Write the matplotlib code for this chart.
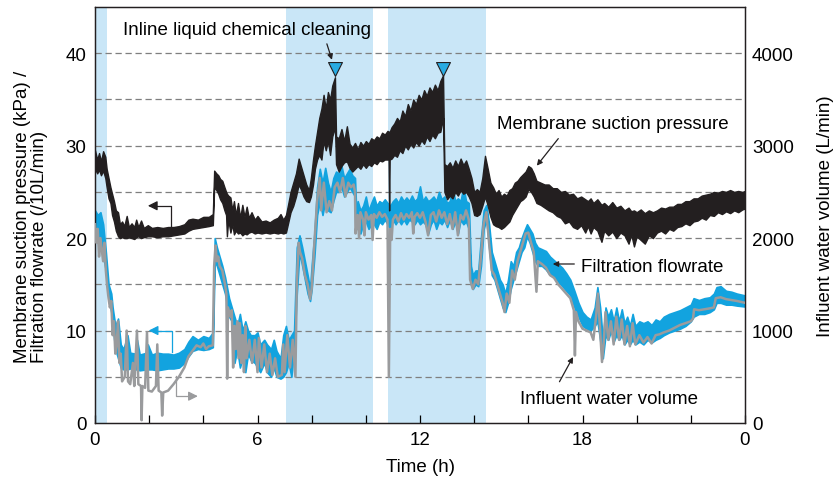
import matplotlib
matplotlib.use("Agg")
import matplotlib.pyplot as plt
import numpy as np

plt.rcParams['font.family'] = ['Liberation Sans', 'DejaVu Sans']

# ---------------- data ----------------
# Membrane suction pressure (kPa): lower / upper envelope of the noisy trace
p_t = [0.00, 0.08, 0.15, 0.22, 0.30, 0.38, 0.43, 0.50, 0.57, 0.63,
       0.70, 0.77, 0.85, 0.92, 1.00, 1.08, 1.17, 1.25, 1.35, 1.45,
       1.52, 1.60, 1.70, 1.80, 1.95, 2.10, 2.30, 2.50, 2.70, 2.90,
       3.10, 3.30, 3.45, 3.60, 3.80, 4.00, 4.20, 4.35, 4.40, 4.48,
       4.55, 4.62, 4.70, 4.78, 4.84, 4.87, 4.92, 5.00, 5.07, 5.13,
       5.20, 5.28, 5.36, 5.44, 5.52, 5.60, 5.68, 5.78, 5.90, 6.00,
       6.15, 6.30, 6.45, 6.60, 6.75, 6.85, 6.95, 7.05, 7.12, 7.22,
       7.32, 7.42, 7.52, 7.60, 7.70, 7.80, 7.90, 7.97, 8.05, 8.12,
       8.20, 8.28, 8.36, 8.44, 8.52, 8.60, 8.68, 8.76, 8.86, 8.90,
       9.00, 9.10, 9.20, 9.30, 9.40, 9.50, 9.60, 9.70, 9.80, 9.90,
       10.00, 10.10, 10.20, 10.30, 10.40, 10.50, 10.60, 10.70, 10.80, 10.84,
       10.86, 10.88, 10.95, 11.05, 11.15, 11.25, 11.35, 11.45, 11.55, 11.65,
       11.75, 11.85, 11.95, 12.05, 12.15, 12.25, 12.35, 12.45, 12.55, 12.65,
       12.75, 12.85, 12.90, 13.00, 13.10, 13.20, 13.30, 13.40, 13.50, 13.60,
       13.70, 13.80, 13.90, 14.00, 14.10, 14.20, 14.30, 14.40, 14.50, 14.60,
       14.70, 14.80, 14.90, 15.00, 15.10, 15.20, 15.30, 15.40, 15.50, 15.60,
       15.70, 15.80, 15.90, 16.00, 16.10, 16.20, 16.30, 16.45, 16.60, 16.75,
       16.90, 17.05, 17.20, 17.35, 17.50, 17.65, 17.80, 17.95, 18.10, 18.20,
       18.30, 18.40, 18.55, 18.70, 18.80, 18.95, 19.10, 19.25, 19.40, 19.55,
       19.70, 19.80, 19.90, 20.00, 20.15, 20.30, 20.45, 20.60, 20.75, 20.90,
       21.05, 21.20, 21.35, 21.50, 21.65, 21.80, 21.95, 22.10, 22.25, 22.40,
       22.55, 22.70, 22.85, 23.00, 23.15, 23.30, 23.45, 23.60, 23.75, 23.90,
       24.00]
p_lo = [27.5, 27.0, 27.4, 26.8, 27.3, 26.5, 25.5, 24.3, 23.8, 22.5,
        21.8, 20.8, 20.2, 20.0, 20.1, 20.0, 20.0, 20.1, 20.0, 19.9,
        20.1, 20.2, 20.0, 20.1, 20.2, 20.2, 20.1, 20.2, 20.2, 20.3,
        20.4, 20.5, 20.8, 21.0, 21.1, 21.2, 21.3, 21.4, 25.5, 25.2,
        24.8, 24.2, 23.8, 23.0, 22.5, 20.2, 22.0, 20.6, 21.5, 20.4,
        20.8, 20.5, 20.6, 20.3, 20.5, 20.4, 20.6, 20.7, 20.5, 20.6,
        20.5, 20.6, 20.5, 20.6, 20.5, 20.6, 20.5, 20.6, 21.5, 22.8,
        23.5, 24.5, 25.8, 25.3, 24.5, 24.0, 23.9, 24.5, 25.8, 27.5,
        28.5, 29.0, 28.5, 30.5, 29.5, 30.5, 29.0, 31.0, 32.0, 28.0,
        27.2, 27.8, 28.2, 28.3, 27.6, 27.2, 27.5, 27.8, 27.5, 28.0,
        27.6, 28.0, 27.8, 28.2, 28.0, 28.4, 28.3, 28.5, 28.5, 28.5,
        23.0, 28.5, 28.6, 29.0, 28.8, 29.5, 29.2, 30.0, 29.6, 30.2,
        29.8, 30.4, 30.0, 30.6, 30.2, 31.0, 30.5, 31.2, 30.8, 31.4,
        31.5, 33.0, 25.0, 24.2, 24.6, 24.3, 25.0, 24.6, 25.2, 24.8,
        25.0, 24.5, 23.8, 22.5, 22.4, 22.6, 23.5, 24.5, 23.5, 22.3,
        21.5, 21.3, 21.2, 21.0, 21.2, 21.5, 21.8, 22.5, 23.0, 23.5,
        24.0, 24.2, 24.5, 25.3, 25.0, 24.5, 23.8, 23.6, 23.3, 23.0,
        22.8, 22.4, 22.2, 21.6, 21.8, 21.2, 21.0, 21.4, 20.6, 21.3,
        20.5, 21.2, 20.8, 19.6, 20.8, 20.3, 20.7, 20.0, 20.6, 20.3,
        19.4, 20.4, 19.1, 20.2, 19.8, 19.4, 20.3, 20.0, 20.6, 20.8,
        20.5, 21.0, 20.8, 21.2, 21.3, 21.6, 21.4, 21.8, 21.9, 22.2,
        22.0, 22.5, 22.4, 22.8, 22.6, 22.9, 22.7, 23.0, 22.8, 23.1,
        23.2]
p_hi = [29.5, 28.5, 29.2, 28.3, 29.4, 28.8, 27.5, 26.5, 25.5, 24.8,
        24.0, 23.0, 22.8, 21.5, 21.8, 21.3, 22.4, 21.2, 21.6, 21.2,
        22.0, 21.2, 21.9, 21.1, 21.4, 21.1, 21.2, 21.1, 21.2, 21.2,
        21.3, 21.5, 22.0, 22.1, 22.0, 22.3, 22.3, 22.6, 27.3, 27.0,
        26.8, 26.4, 26.2, 25.5, 25.0, 24.8, 24.6, 24.4, 23.0, 24.0,
        22.5, 23.8, 22.2, 23.6, 22.3, 23.4, 22.2, 22.8, 22.0, 22.4,
        21.8, 21.9, 21.7, 22.0, 22.2, 22.6, 22.0, 22.5, 23.5, 25.0,
        26.0, 27.0, 28.6, 27.8, 26.8, 25.8, 25.2, 26.5, 28.5, 30.0,
        31.5, 33.0, 34.0, 35.5, 34.0, 35.8, 35.0, 36.5, 37.4, 31.0,
        30.8, 31.8, 30.5, 32.1, 30.2, 29.8, 30.3, 29.6, 30.4, 30.0,
        30.5, 30.2, 30.8, 30.6, 31.0, 30.8, 31.4, 31.2, 31.6, 31.5,
        31.5, 31.5, 32.0, 32.4, 33.0, 32.6, 33.8, 33.2, 34.5, 33.8,
        35.0, 34.5, 35.5, 35.0, 36.0, 35.4, 36.3, 35.8, 36.6, 36.0,
        37.0, 37.6, 28.0, 27.8, 28.2, 27.6, 28.4, 27.8, 28.6, 27.9,
        28.4, 27.5, 26.5, 25.0, 25.3, 25.0, 26.5, 28.9, 27.5, 26.0,
        25.5, 24.8, 25.2, 24.5, 24.8, 24.6, 25.2, 25.4, 26.0, 26.2,
        26.6, 26.9, 27.2, 27.8, 27.6, 27.0, 26.2, 26.0, 25.8, 25.8,
        25.4, 25.4, 25.0, 25.1, 24.7, 24.8, 24.3, 24.5, 24.2, 24.0,
        24.3, 23.8, 24.2, 23.6, 23.8, 23.4, 23.9, 23.3, 23.5, 23.0,
        23.3, 22.9, 23.0, 22.8, 23.1, 22.7, 23.0, 22.8, 23.0, 23.3,
        23.2, 23.4, 23.4, 23.7, 23.7, 24.0, 24.0, 24.3, 24.3, 24.6,
        24.7, 24.8, 25.0, 24.9, 25.1, 25.0, 25.2, 25.0, 25.1, 25.0,
        25.1]

# Filtration flowrate (/10 L/min): lower / upper envelope
f_t = [0.0, 0.1, 0.2, 0.3, 0.4, 0.5, 0.6, 0.65, 0.75, 0.85, 0.95, 1.05, 1.2, 1.3, 1.5, 1.55, 1.65, 1.9, 1.95,
       2.1, 2.3, 2.5, 2.7, 2.9, 3.1, 3.3, 3.45, 3.6, 3.8, 4.0, 4.2, 4.35, 4.42, 4.5, 4.6, 4.7, 4.8, 4.95, 5.05,
       5.15, 5.25, 5.35, 5.45, 5.55, 5.65, 5.75, 5.9, 6.0, 6.1, 6.25, 6.35, 6.5, 6.6, 6.7, 6.85, 6.95, 7.05,
       7.15, 7.25, 7.35, 7.45, 7.55, 7.65, 7.75, 7.85, 7.94, 8.0, 8.1, 8.2, 8.3, 8.4, 8.5, 8.6, 8.7, 8.8, 8.9,
       9.0, 9.1, 9.2, 9.3, 9.4, 9.5, 9.6, 9.65, 9.7, 9.8, 9.9, 10.0, 10.1, 10.2, 10.3, 10.4, 10.5, 10.6, 10.7,
       10.8, 10.9, 11.0, 11.1, 11.2, 11.3, 11.4, 11.5, 11.6, 11.7, 11.8, 11.9, 12.0, 12.1, 12.2, 12.3, 12.4,
       12.5, 12.6, 12.7, 12.8, 12.9, 13.0, 13.1, 13.2, 13.3, 13.4, 13.5, 13.6, 13.7, 13.8, 13.88, 13.95, 14.05,
       14.15, 14.25, 14.35, 14.45, 14.55, 14.65, 14.75, 14.85, 14.95, 15.05, 15.15, 15.25, 15.35, 15.45, 15.55,
       15.65, 15.75, 15.85, 15.95, 16.05, 16.15, 16.25, 16.35, 16.5, 16.65, 16.8, 16.95, 17.1, 17.25, 17.4,
       17.55, 17.7, 17.85, 18.0, 18.15, 18.3, 18.45, 18.55, 18.65, 18.75, 18.85, 18.95, 19.05, 19.15, 19.25,
       19.35, 19.45, 19.55, 19.65, 19.75, 19.85, 19.95, 20.1, 20.25, 20.4, 20.55, 20.7, 20.85, 21.0, 21.2,
       21.4, 21.6, 21.8, 22.0, 22.1, 22.3, 22.5, 22.7, 22.85, 22.95, 23.1, 23.3, 23.5, 23.7, 24.0]
f_lo = [20.5, 19.5, 19.0, 18.0, 16.5, 13.5, 12.0, 10.5, 8.0, 7.0, 6.0, 5.8, 5.8, 5.9, 5.8, 5.8, 5.7, 5.8, 5.8,
        5.8, 5.7, 5.8, 5.9, 5.9, 6.0, 6.5, 7.2, 7.8, 8.0, 7.9, 8.0, 8.2, 17.5, 17.0, 16.0, 15.0, 14.0, 11.5, 11.0,
        6.5, 8.0, 6.0, 7.0, 5.5, 7.5, 6.8, 6.5, 6.0, 5.5, 6.5, 5.5, 5.0, 6.0, 5.0, 4.8, 5.0, 5.5,
        6.5, 5.0, 8.0, 14.0, 18.5, 17.0, 15.5, 14.0, 13.2, 14.5, 18.0, 22.5, 24.0, 22.5, 24.0, 23.0, 22.8, 24.0, 25.0,
        25.0, 25.5, 24.5, 25.0, 25.5, 25.0, 24.5, 21.0, 21.5, 20.5, 21.5, 21.8, 21.0, 21.5, 21.5, 21.0, 21.8, 21.5, 22.0,
        21.5, 21.0, 22.0, 21.5, 22.0, 21.5, 22.0, 21.5, 22.0, 21.8, 21.5, 22.0, 21.5, 21.8, 21.5, 20.5, 21.5,
        22.0, 21.0, 21.8, 21.5, 22.0, 21.2, 22.0, 21.0, 21.8, 20.5, 22.0, 21.5, 21.8, 21.0, 15.0, 14.5, 15.0,
        14.8, 17.0, 21.0, 22.0, 19.0, 16.0, 15.5, 14.5, 13.5, 12.5, 12.0, 13.0, 14.5, 15.5, 16.5,
        17.5, 18.5, 19.0, 20.2, 19.5, 18.5, 17.5, 17.0, 17.0, 16.6, 16.0, 15.8, 15.3, 14.8, 14.3,
        13.8, 12.5, 11.5, 10.5, 10.2, 10.0, 10.5, 11.0, 9.0, 7.0, 9.5, 9.0, 10.0, 8.8, 9.5,
        9.0, 9.5, 8.5, 9.0, 8.5, 9.0, 8.5, 8.8, 8.5, 9.0, 8.7, 9.0, 9.2, 9.5, 9.8,
        10.0, 10.2, 10.5, 11.0, 11.5, 11.8, 11.8, 12.0, 12.3, 13.0, 13.0, 12.8, 12.8, 12.7, 12.6]
f_hi = [23.0, 22.5, 22.8, 21.5, 18.5, 15.0, 14.0, 12.5, 10.5, 11.3, 8.5, 8.0, 9.5, 7.6, 7.5, 9.0, 7.4, 7.6, 8.5,
        7.4, 7.6, 7.5, 7.5, 7.4, 7.6, 8.0, 8.8, 9.4, 9.0, 9.4, 9.2, 9.8, 20.0, 19.0, 18.0, 17.0, 15.8, 13.5, 12.5,
        11.5, 10.5, 11.8, 10.0, 11.0, 10.0, 9.5, 9.5, 9.8, 8.5, 9.0, 8.5, 8.0, 9.0, 7.8, 7.0, 9.5, 10.5,
        9.0, 9.5, 10.0, 19.0, 20.3, 19.0, 17.5, 16.0, 14.5, 17.0, 20.5, 25.5, 27.5, 26.0, 27.6, 26.0, 25.0, 26.5, 27.2,
        27.0, 27.8, 26.5, 27.0, 27.5, 26.8, 26.5, 22.5, 24.0, 23.0, 23.5, 24.5, 23.0, 23.8, 24.5, 23.5, 24.0, 23.8, 24.2,
        23.8, 23.5, 24.0, 24.3, 23.8, 24.5, 24.0, 24.4, 24.0, 24.6, 24.0, 24.3, 25.6, 24.0, 24.5, 24.0, 24.2,
        24.5, 24.0, 25.0, 24.2, 24.5, 23.8, 24.0, 25.5, 24.0, 24.3, 24.0, 25.6, 24.0, 23.8, 17.0, 16.0, 16.5,
        16.5, 20.0, 23.0, 23.6, 21.5, 18.5, 17.5, 16.5, 15.5, 15.0, 14.0, 15.5, 17.5, 17.0, 18.5,
        19.0, 20.0, 20.8, 21.5, 21.0, 20.5, 19.5, 19.0, 18.8, 18.6, 18.0, 17.6, 17.2, 16.8, 16.2,
        15.5, 14.3, 13.0, 12.0, 11.5, 11.2, 12.5, 14.7, 12.5, 9.0, 12.5, 11.5, 12.3, 11.0, 12.5,
        11.0, 12.3, 10.8, 11.5, 10.5, 11.8, 10.5, 11.0, 10.8, 11.0, 10.6, 11.2, 11.0, 11.5, 11.8,
        12.0, 12.2, 12.5, 12.8, 13.5, 13.3, 13.5, 13.6, 14.0, 14.7, 14.8, 14.3, 14.2, 14.0, 13.8]

# Influent water volume (L/min)
i_t = [0.0, 0.05, 0.1, 0.15, 0.2, 0.3, 0.35, 0.4, 0.45, 0.5, 0.55, 0.6, 0.65, 0.7, 0.75, 0.8, 0.85, 0.9, 0.95,
       1.0, 1.1, 1.17, 1.22, 1.3, 1.4, 1.45, 1.55, 1.6, 1.7, 1.72, 1.75, 1.85, 1.92, 1.97, 2.1, 2.25, 2.3, 2.35,
       2.45, 2.48, 2.52, 2.7, 2.9, 3.1, 3.3, 3.45, 3.6, 3.75, 3.9, 4.0, 4.1, 4.2, 4.35, 4.4, 4.45, 4.5, 4.55,
       4.6, 4.7, 4.8, 4.85, 4.88, 4.91, 5.0, 5.05, 5.1, 5.15, 5.2, 5.25, 5.3, 5.35, 5.4, 5.45, 5.5, 5.55, 5.6,
       5.7, 5.8, 5.9, 6.0, 6.05, 6.15, 6.25, 6.35, 6.45, 6.55, 6.65, 6.75, 6.9, 6.95, 7.0, 7.1, 7.2, 7.3, 7.4,
       7.45, 7.52, 7.57, 7.65, 7.75, 7.85, 7.94, 8.0, 8.1, 8.2, 8.3, 8.35, 8.45, 8.55, 8.65, 8.75, 8.85, 8.95,
       9.05, 9.15, 9.25, 9.35, 9.45, 9.55, 9.6, 9.62, 9.7, 9.75, 9.8, 9.9, 9.95, 10.0, 10.1, 10.2, 10.25, 10.3,
       10.4, 10.5, 10.6, 10.7, 10.8, 10.85, 10.9, 10.95, 11.0, 11.1, 11.2, 11.3, 11.4, 11.5, 11.6, 11.7, 11.75,
       11.8, 11.9, 12.0, 12.1, 12.2, 12.3, 12.4, 12.5, 12.6, 12.7, 12.8, 12.9, 13.0, 13.1, 13.2, 13.3, 13.4,
       13.5, 13.6, 13.7, 13.8, 13.85, 13.95, 14.05, 14.15, 14.25, 14.35, 14.45, 14.55, 14.65, 14.75, 14.85,
       14.95, 15.05, 15.12, 15.2, 15.3, 15.4, 15.5, 15.6, 15.7, 15.8, 15.9, 16.0, 16.1, 16.2, 16.3, 16.35,
       16.5, 16.65, 16.8, 16.95, 17.1, 17.25, 17.4, 17.55, 17.68, 17.72, 17.76, 17.85, 18.0, 18.15, 18.3, 18.4,
       18.5, 18.57, 18.65, 18.72, 18.78, 18.85, 18.95, 19.05, 19.15, 19.25, 19.35, 19.45, 19.55, 19.65, 19.75,
       19.85, 19.95, 20.1, 20.25, 20.4, 20.55, 20.7, 20.85, 21.0, 21.2, 21.4, 21.6, 21.8, 22.0, 22.08, 22.12,
       22.3, 22.5, 22.7, 22.85, 22.92, 23.1, 23.3, 23.5, 23.7, 24.0]
i_v = [2150, 1950, 2100, 1800, 2000, 1750, 1950, 1650, 1480, 1350, 1250, 1320, 950, 1100, 750, 850, 1100, 650, 750,
       450, 500, 1000, 450, 420, 650, 400, 1000, 420, 400, 30, 400, 380, 980, 350, 340, 400, 850, 350,
       330, 80, 330, 350, 420, 500, 600, 720, 780, 840, 820, 860, 800, 830, 840, 1700, 1920, 1750, 1800,
       1700, 1650, 1500, 1400, 480, 1250, 1150, 1220, 600, 1050, 800, 1100, 700, 1080, 650, 950, 550, 1050, 700,
       900, 650, 900, 550, 920, 600, 850, 550, 750, 520, 700, 500, 520, 850, 550, 950, 600, 900, 500,
       1500, 1950, 1850, 1780, 1600, 1500, 1340, 1450, 1950, 2400, 2650, 2300, 2600, 2280, 2400, 2300, 2550, 2600,
       2500, 2650, 2450, 2600, 2550, 2580, 2500, 2050, 2250, 2000, 2280, 2200, 2030, 2280, 2200, 2250, 1980, 2260,
       2220, 2280, 2230, 2260, 2200, 500, 2100, 1980, 2200, 2250, 2180, 2270, 2200, 2260, 2220, 2280, 2050,
       2230, 2270, 2220, 2280, 2180, 2030, 2250, 2280, 2180, 2300, 2220, 2280, 2150, 2260, 2100, 2280, 2030,
       2250, 2200, 2300, 2200, 1550, 1450, 1550, 1500, 1800, 2150, 2280, 1950, 1650, 1600, 1500,
       1400, 1300, 1200, 1400, 1300, 1650, 1550, 1750, 1850, 1950, 2050, 2060, 1950, 1850, 1420, 1750,
       1720, 1680, 1600, 1570, 1500, 1450, 1400, 1350, 1220, 730, 1200, 1100, 1020, 1000, 980, 900,
       1150, 1400, 1000, 660, 850, 1200, 900, 1100, 850, 1150, 900, 1120, 850, 1050, 830,
       1080, 850, 950, 870, 930, 860, 950, 960, 980, 1000, 1030, 1060, 1080, 1100, 1130, 1230,
       1220, 1230, 1240, 1250, 1350, 1360, 1340, 1330, 1320, 1300]

cleaning_spans = [(0.0, 0.43), (7.05, 10.25), (10.8, 14.43)]
cleaning_marks_t = [8.86, 12.85]
x_ticks = [0, 6, 12, 18, 24]
x_ticklabels = ['0', '6', '12', '18', '0']
left_ticks = [0, 10, 20, 30, 40]
right_ticks = [0, 1000, 2000, 3000, 4000]

# ---------------- colours ----------------
C_SHADE = '#c9e6f7'
C_BLUE = '#12a3df'
C_GRAY = '#9a9b9d'
C_BLACK = '#231f20'
FS = 13.5

fig = plt.figure(figsize=(8.36, 4.81), dpi=100)
ax = fig.add_axes([95/836, 1-424/481, 650/836, 416/481])
ax.set_xlim(0, 24)
ax.set_ylim(0, 45)

for a, b in cleaning_spans:
    ax.axvspan(a, b, color=C_SHADE, lw=0, zorder=0.5)

for y in range(5, 45, 5):
    ax.axhline(y, color='#7f7f7f', lw=0.9, ls=(0, (5, 3)), zorder=1)

ax.fill_between(f_t, f_lo, f_hi, color=C_BLUE, lw=1.2, edgecolor=C_BLUE, zorder=2)

ax2 = ax.twinx()
ax2.set_ylim(0, 4500)
ax2.plot(i_t, i_v, color=C_GRAY, lw=1.8, zorder=3)

ax3 = ax.twinx()
ax3.set_ylim(0, 45)
ax3.axis('off')
ax3.fill_between(p_t, p_lo, p_hi, color=C_BLACK, lw=1.0, edgecolor=C_BLACK, zorder=4)

# ticks
ax.set_xticks(x_ticks)
ax.set_xticks(np.arange(0, 25, 2), minor=True)
ax.set_xticklabels(x_ticklabels)
ax.tick_params(axis='x', which='both', direction='in', length=6, width=0.9, labelsize=FS, pad=6)
ax.set_yticks(left_ticks)
ax.tick_params(axis='y', length=0, labelsize=FS, pad=6)
ax2.set_yticks(right_ticks)
ax2.tick_params(axis='y', length=0, labelsize=FS, pad=5)
for a in (ax, ax2):
    for s in a.spines.values():
        s.set_linewidth(0.9)
        s.set_color('#231f20')

ax.set_xlabel('Time (h)', fontsize=FS, labelpad=7)
ax.set_ylabel('Membrane suction pressure (kPa) /\nFiltration flowrate (/10L/min)', fontsize=FS,
              linespacing=1.0, multialignment='left')
ax.yaxis.set_label_coords(-0.073, 0.498)
ax2.set_ylabel('Influent water volume (L/min)', fontsize=FS)
ax2.yaxis.set_label_coords(1.11, 0.5)

# annotations
ax3.text(5.6, 42.6, 'Inline liquid chemical cleaning', fontsize=FS, ha='center', va='center')
ax3.annotate('', xy=(8.78, 39.0), xytext=(8.53, 41.3),
             arrowprops=dict(arrowstyle='-|>', color=C_BLACK, lw=0.9, mutation_scale=8))
ax3.scatter(cleaning_marks_t, [38.3] * len(cleaning_marks_t), marker='v', s=100,
            color='#29abe2', edgecolor=C_BLACK, linewidths=0.8, zorder=6)

ax3.text(14.85, 32.4, 'Membrane suction pressure', fontsize=FS, ha='left', va='center')
ax3.annotate('', xy=(16.25, 27.6), xytext=(17.17, 31.0),
             arrowprops=dict(arrowstyle='-|>', color=C_BLACK, lw=0.9, mutation_scale=8))

ax3.text(17.95, 16.9, 'Filtration flowrate', fontsize=FS, ha='left', va='center')
ax3.annotate('', xy=(16.8, 17.2), xytext=(17.8, 17.2),
             arrowprops=dict(arrowstyle='-|>', color=C_BLACK, lw=0.9, mutation_scale=8))

ax3.text(15.7, 2.6, 'Influent water volume', fontsize=FS, ha='left', va='center')
ax3.annotate('', xy=(17.7, 7.4), xytext=(17.1, 4.2),
             arrowprops=dict(arrowstyle='-|>', color=C_BLACK, lw=0.9, mutation_scale=8))

# elbow arrows indicating axes
ax3.plot([2.8, 2.8, 2.3], [20.8, 23.5, 23.5], color=C_BLACK, lw=0.9, zorder=5)
ax3.annotate('', xy=(1.85, 23.5), xytext=(2.35, 23.5),
             arrowprops=dict(arrowstyle='-|>', color=C_BLACK, lw=0.9, mutation_scale=14))
ax3.plot([2.83, 2.83, 2.3], [7.7, 10.0, 10.0], color=C_BLUE, lw=0.9, zorder=5)
ax3.annotate('', xy=(1.88, 10.0), xytext=(2.35, 10.0),
             arrowprops=dict(arrowstyle='-|>', color=C_BLUE, lw=0.9, mutation_scale=14))
ax3.plot([3.0, 3.0, 3.4], [5.1, 2.9, 2.9], color=C_GRAY, lw=0.9, zorder=5)
ax3.annotate('', xy=(3.9, 2.9), xytext=(3.35, 2.9),
             arrowprops=dict(arrowstyle='-|>', color=C_GRAY, lw=0.9, mutation_scale=14))

fig.savefig('out.png', dpi=100)
